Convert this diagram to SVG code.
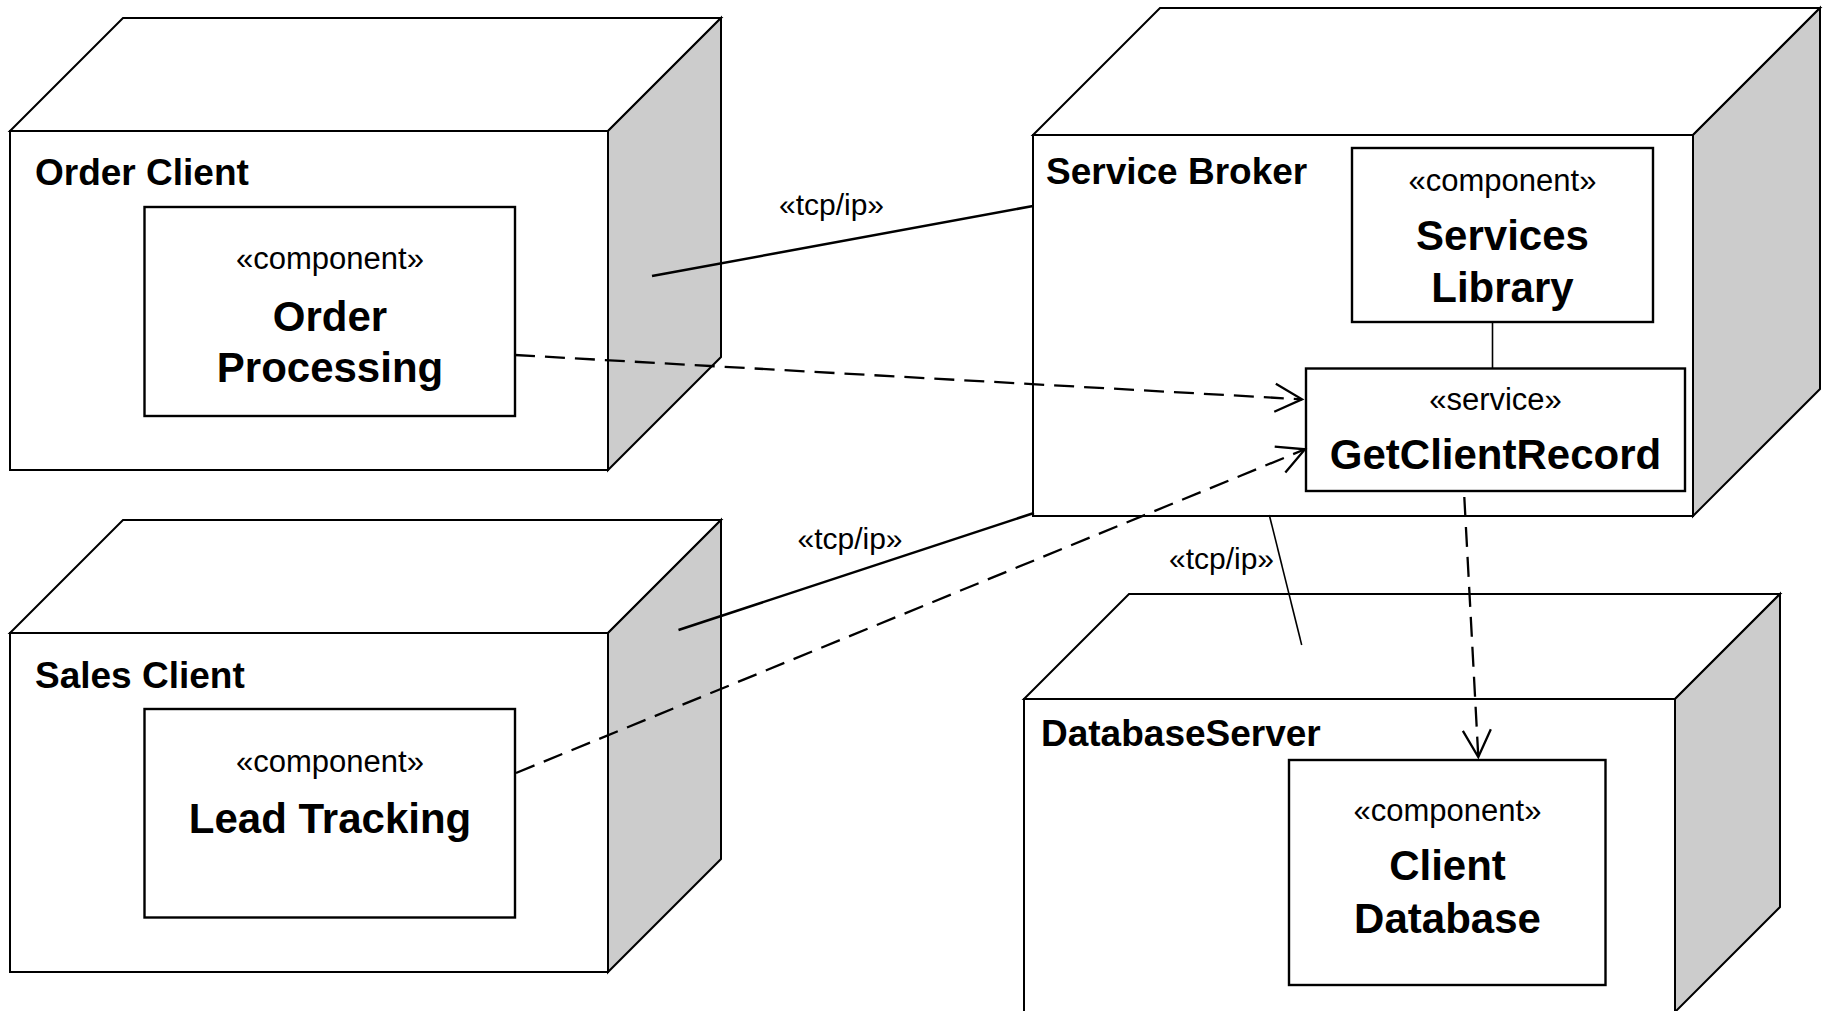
<svg xmlns="http://www.w3.org/2000/svg" width="1828" height="1011" viewBox="0 0 1828 1011">
  <style>
    .face { fill: #ffffff; stroke: #000000; stroke-width: 2; stroke-linejoin: miter; }
    .side { fill: #cccccc; stroke: #000000; stroke-width: 2; stroke-linejoin: miter; }
    .box { fill: #ffffff; stroke: #000000; stroke-width: 2.4; }
    .nodelabel { font-family: "Liberation Sans", Arial, sans-serif; font-weight: bold; font-size: 37px; fill: #000; }
    .stereo { font-family: "Liberation Sans", Arial, sans-serif; font-size: 31px; fill: #000; text-anchor: middle; }
    .name { font-family: "Liberation Sans", Arial, sans-serif; font-weight: bold; font-size: 42px; fill: #000; text-anchor: middle; }
    .conn { fill: none; stroke: #000000; stroke-width: 2.5; }
    .thin { fill: none; stroke: #000000; stroke-width: 1.6; }
    .dep { fill: none; stroke: #000000; stroke-width: 2.3; stroke-dasharray: 20 10; }
    .clabel { font-family: "Liberation Sans", Arial, sans-serif; font-size: 30px; fill: #000; text-anchor: middle; }
  </style>
  <defs>
    <marker id="open" viewBox="-30 -16 32 32" markerWidth="32" markerHeight="32" refX="0" refY="0" markerUnits="userSpaceOnUse" orient="auto" overflow="visible">
      <path d="M-27,-14 L0,0 L-27,14" fill="none" stroke="#000" stroke-width="2.3"/>
    </marker>
  </defs>
  <rect x="0" y="0" width="1828" height="1011" fill="#ffffff"/>

  <g id="order-client">
    <polygon class="face" points="10,131 123,18 721,18 608,131"/>
    <polygon class="side" points="608,131 721,18 721,357 608,470"/>
    <rect class="face" x="10" y="131" width="598" height="339"/>
    <text class="nodelabel" x="35" y="185">Order Client</text>
    <g id="order-processing">
      <rect class="box" x="144.5" y="207" width="370.5" height="209"/>
      <text class="stereo" x="330" y="269">«component»</text>
      <text class="name" x="330" y="331">Order</text>
      <text class="name" x="330" y="382">Processing</text>
    </g>
  </g>

  <g id="sales-client">
    <polygon class="face" points="10,633 123,520 721,520 608,633"/>
    <polygon class="side" points="608,633 721,520 721,859 608,972"/>
    <rect class="face" x="10" y="633" width="598" height="339"/>
    <text class="nodelabel" x="35" y="687.5">Sales Client</text>
    <g id="lead-tracking">
      <rect class="box" x="144.5" y="709" width="370.5" height="208.5"/>
      <text class="stereo" x="330" y="771.5">«component»</text>
      <text class="name" x="330" y="833">Lead Tracking</text>
    </g>
  </g>

  <g id="service-broker">
    <polygon class="face" points="1033,135 1160,8 1820,8 1693,135"/>
    <polygon class="side" points="1693,135 1820,8 1820,389 1693,516"/>
    <rect class="face" x="1033" y="135" width="660" height="381"/>
    <text class="nodelabel" x="1046" y="184">Service Broker</text>
    <g id="services-library">
      <rect class="box" x="1352" y="148" width="301" height="174"/>
      <text class="stereo" x="1502.5" y="190.5">«component»</text>
      <text class="name" x="1502.5" y="249.5">Services</text>
      <text class="name" x="1502.5" y="301.5">Library</text>
    </g>
    <g id="get-client-record">
      <rect class="box" x="1306" y="368.5" width="379" height="122.5"/>
      <text class="stereo" x="1495.5" y="410">«service»</text>
      <text class="name" x="1495.5" y="468.5">GetClientRecord</text>
    </g>
  </g>

  <g id="database-server">
    <polygon class="face" points="1024,699 1129,594 1780,594 1675,699"/>
    <polygon class="side" points="1675,699 1780,594 1780,907 1675,1012"/>
    <rect class="face" x="1024" y="699" width="651" height="313"/>
    <text class="nodelabel" x="1041" y="745.5">DatabaseServer</text>
    <g id="client-database">
      <rect class="box" x="1289" y="760" width="316.5" height="225"/>
      <text class="stereo" x="1447.5" y="821">«component»</text>
      <text class="name" x="1447.5" y="880">Client</text>
      <text class="name" x="1447.5" y="933">Database</text>
    </g>
  </g>

  <g id="connectors">
    <line class="conn" x1="652" y1="276" x2="1033" y2="206"/>
    <text class="clabel" x="831.5" y="215">«tcp/ip»</text>
    <line class="conn" x1="678.5" y1="630" x2="1034" y2="513"/>
    <text class="clabel" x="850" y="549">«tcp/ip»</text>
    <line class="thin" x1="1269.3" y1="515" x2="1301.7" y2="645"/>
    <text class="clabel" x="1221.5" y="569">«tcp/ip»</text>
    <line class="thin" x1="1492.5" y1="322" x2="1492.5" y2="368.5"/>
    <line class="dep" x1="515" y1="355" x2="1302" y2="399.3" marker-end="url(#open)"/>
    <line class="dep" x1="516" y1="773" x2="1305" y2="449.3" marker-end="url(#open)"/>
    <line class="dep" x1="1464.3" y1="497" x2="1478.3" y2="757" marker-end="url(#open)"/>
  </g>
</svg>
